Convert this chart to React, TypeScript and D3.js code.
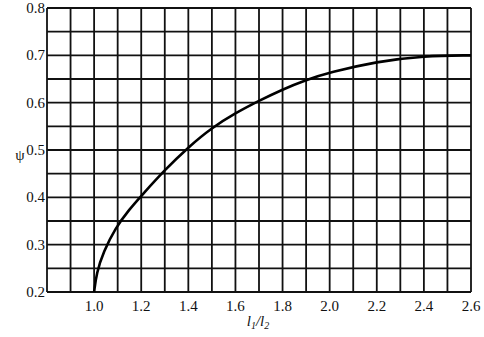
import React, { useEffect, useRef } from "react";
import * as d3 from "d3";

// l1/l2 ratio vs psi
const ratioValues = [1.0, 1.01, 1.04, 1.09, 1.15, 1.2, 1.3, 1.4, 1.5, 1.6, 1.7, 1.8, 1.9, 2.0, 2.2, 2.4, 2.6];
const psiValues = [0.2, 0.24, 0.285, 0.335, 0.375, 0.403, 0.458, 0.506, 0.547, 0.578, 0.604, 0.628, 0.648, 0.664, 0.687, 0.699, 0.7];

const xTickLabels = [1.0, 1.2, 1.4, 1.6, 1.8, 2.0, 2.2, 2.4, 2.6];
const yTickLabels = [0.2, 0.3, 0.4, 0.5, 0.6, 0.7, 0.8];

const width = 484;
const height = 337;

const App: React.FC = () => {
  const svgRef = useRef<SVGSVGElement>(null);

  useEffect(() => {
    if (!svgRef.current) return;
    const svg = d3.select(svgRef.current);
    svg.selectAll("*").remove();

    const left = 47;
    const right = 471;
    const top = 8;
    const bottom = 292;
    const font = "'Times New Roman', 'Liberation Serif', 'DejaVu Serif', serif";

    const x = d3.scaleLinear().domain([0.8, 2.6]).range([left, right]);
    const y = d3.scaleLinear().domain([0.2, 0.8]).range([bottom, top]);

    svg.append("rect").attr("width", width).attr("height", height).attr("fill", "#fff");

    // grid: every 0.1 in x, every 0.05 in y
    const grid = svg.append("g").attr("stroke", "#111").attr("stroke-width", 1.8);
    d3.range(0, 19).forEach((i) => {
      const v = 0.8 + i * 0.1;
      grid
        .append("line")
        .attr("x1", x(v))
        .attr("x2", x(v))
        .attr("y1", top)
        .attr("y2", bottom);
    });
    d3.range(0, 13).forEach((i) => {
      const v = 0.2 + i * 0.05;
      grid
        .append("line")
        .attr("x1", left)
        .attr("x2", right)
        .attr("y1", y(v))
        .attr("y2", y(v));
    });

    const pts = ratioValues.map((r, i) => [r, psiValues[i]] as [number, number]);
    const line = d3
      .line<[number, number]>()
      .x((d) => x(d[0]))
      .y((d) => y(d[1]))
      .curve(d3.curveBasis);
    svg
      .append("path")
      .datum(pts)
      .attr("fill", "none")
      .attr("stroke", "#000")
      .attr("stroke-width", 2.6)
      .attr("d", line);

    svg
      .append("g")
      .selectAll("text")
      .data(xTickLabels)
      .join("text")
      .attr("x", (d) => x(d))
      .attr("y", bottom + 19)
      .attr("text-anchor", "middle")
      .style("font-family", font)
      .attr("font-size", 15)
      .attr("fill", "#111")
      .text((d) => d.toFixed(1));

    svg
      .append("g")
      .selectAll("text")
      .data(yTickLabels)
      .join("text")
      .attr("x", left - 2)
      .attr("y", (d) => y(d) + 5)
      .attr("text-anchor", "end")
      .style("font-family", font)
      .attr("font-size", 15)
      .attr("fill", "#111")
      .text((d) => d.toFixed(1));

    svg
      .append("text")
      .attr("x", 20)
      .attr("y", 160)
      .attr("text-anchor", "middle")
      .style("font-family", font)
      .attr("font-size", 15)
      .attr("fill", "#111")
      .text("ψ");

    const xl = svg
      .append("text")
      .attr("x", 258)
      .attr("y", 326)
      .attr("text-anchor", "middle")
      .style("font-family", font)
      .attr("font-style", "italic")
      .attr("font-size", 15)
      .attr("fill", "#111");
    xl.append("tspan").text("l");
    xl.append("tspan").attr("font-size", 10).attr("dy", 3).text("1");
    xl.append("tspan").attr("dy", -3).text("/l");
    xl.append("tspan").attr("font-size", 10).attr("dy", 3).text("2");
  }, []);

  return (
    <svg
      ref={svgRef}
      width={width}
      height={height}
      style={{ position: "absolute", left: 0, top: 0 }}
    />
  );
};

export default App;
